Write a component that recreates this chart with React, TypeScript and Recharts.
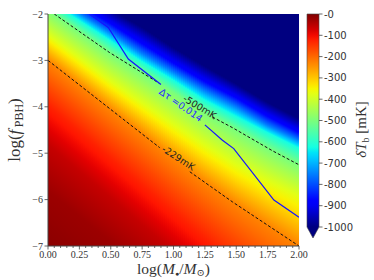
import React from 'react';
import { ComposedChart, BarChart, Bar, Line, Scatter, XAxis, YAxis } from 'recharts';

// columns of log(M/Msun) where the colour field was read
const massX = [0, 0.25, 0.5, 0.75, 1, 1.25, 1.5, 1.75, 2];

// log(f_PBH) where dT_b crosses each level, per mass column
const iso1000 = [-1.1, -1.5, -1.9, -2.28, -2.72, -3.12, -3.5, -3.9, -4.25];
const iso875 = [-1.4, -1.8, -2.2, -2.63, -3.05, -3.45, -3.8, -4.2, -4.55];
const iso750 = [-1.55, -1.98, -2.4, -2.85, -3.25, -3.65, -4.0, -4.4, -4.72];
const iso625 = [-1.7, -2.13, -2.57, -3.02, -3.42, -3.85, -4.2, -4.55, -4.88];
const iso500 = [-1.91, -2.38, -2.85, -3.27, -3.69, -4.12, -4.5, -4.89, -5.25];
const iso375 = [-2.45, -2.95, -3.45, -3.92, -4.38, -4.83, -5.25, -5.6, -5.92];
const iso229 = [-3.0, -3.53, -4.06, -4.58, -5.12, -5.63, -6.1, -6.55, -7.0];
const iso125 = [-3.95, -4.52, -5.1, -5.67, -6.25, -6.82, -7.4, -7.97, -8.55];
const iso60 = [-4.8, -5.38, -5.95, -6.53, -7.1, -7.68, -8.25, -8.83, -9.4];
const iso25 = [-5.8, -6.35, -6.9, -7.45, -8.0, -8.55, -9.1, -9.65, -10.2];
const iso10 = [-7.0, -7.55, -8.1, -8.65, -9.2, -9.75, -10.3, -10.85, -11.4];

const isoLevels = [-1000, -875, -750, -625, -500, -375, -229, -125, -60, -25, -10];
const isoRows = [iso1000, iso875, iso750, iso625, iso500, iso375, iso229, iso125, iso60, iso25, iso10];

// dashed contours (null = gap for the inline label)
const c500X = [0.05, 0.49, 0.89, 1.1, 1.31, 1.47, 1.79, 2.0];
const c500Y = [-2.0, -2.83, -3.5, null, -4.22, -4.45, -4.95, -5.25];
const c229X = [0, 0.7, 0.89, 1.0, 1.13, 1.47, 2.0];
const c229Y = [-3.0, -4.48, -4.88, null, -5.4, -6.05, -7.0];

// optical depth contour
const tauX = [0.33, 0.48, 0.64, 0.9, 1.05, 1.25, 1.39, 1.48, 1.8, 2.0];
const tauY = [-2.0, -2.29, -2.97, -3.52, null, -4.39, -4.72, -4.9, -6.01, -6.38];

// inline contour labels
const labelText = ['-500mK', '\u0394\u03c4 =0.014', '-229mK'];
const labelX = [1.21, 1.06, 1.04];
const labelY = [-4.0, -3.96, -5.1];

const xMajor = [0, 0.25, 0.5, 0.75, 1, 1.25, 1.5, 1.75, 2];
const yTicks = [-2, -3, -4, -5, -6, -7];
const cbTicks = [0, -100, -200, -300, -400, -500, -600, -700, -800, -900, -1000];

const labelAngle = [31, 35, 33];
const labelColor = ['#222', '#2a2aff', '#222'];
const AXIS = '#444';
const SERIF = '"Liberation Serif", "DejaVu Serif", serif';

// layout of the main chart
const W = 374;
const H = 280;
const M = { top: 14, right: 75, bottom: 0, left: 8 };
const Y_AXIS_W = 40;
const PLOT_W = W - M.left - M.right - Y_AXIS_W;

// matplotlib jet
const JET_R = [[0, 0], [0.35, 0], [0.66, 1], [0.89, 1], [1, 0.5]];
const JET_G = [[0, 0], [0.125, 0], [0.375, 1], [0.64, 1], [0.91, 0], [1, 0]];
const JET_B = [[0, 0.5], [0.11, 1], [0.34, 1], [0.65, 0], [1, 0]];

const segVal = (pts: number[][], t: number) => {
  for (let i = 0; i < pts.length - 1; i++) {
    if (t <= pts[i + 1][0]) {
      const f = (t - pts[i][0]) / (pts[i + 1][0] - pts[i][0]);
      return pts[i][1] + f * (pts[i + 1][1] - pts[i][1]);
    }
  }
  return pts[pts.length - 1][1];
};

const jet = (v: number) => {
  const t = Math.min(1, Math.max(0, (v + 1000) / 1000));
  const c = (p: number[][]) => Math.round(segVal(p, t) * 255);
  return `rgb(${c(JET_R)},${c(JET_G)},${c(JET_B)})`;
};

const rowAt = (row: number[], x: number) => {
  for (let k = 0; k < massX.length - 1; k++) {
    if (x <= massX[k + 1]) {
      const f = (x - massX[k]) / (massX[k + 1] - massX[k]);
      return row[k] + f * (row[k + 1] - row[k]);
    }
  }
  return row[row.length - 1];
};

const valueAt = (ys: number[], y: number) => {
  if (y >= ys[0]) return isoLevels[0];
  for (let j = 0; j < ys.length - 1; j++) {
    if (y >= ys[j + 1]) {
      const f = (ys[j] - y) / (ys[j] - ys[j + 1]);
      return isoLevels[j] + f * (isoLevels[j + 1] - isoLevels[j]);
    }
  }
  return isoLevels[isoLevels.length - 1];
};

// gradient stops down one vertical strip of the map (top = -2, bottom = -7)
const stripStops = (x: number) => {
  const ys = isoRows.map((r) => rowAt(r, x));
  const pts: number[][] = [[0, valueAt(ys, -2)]];
  const sub = 5;
  for (let j = 0; j < ys.length - 1; j++) {
    for (let k = 0; k < sub; k++) {
      const y = ys[j] + ((ys[j + 1] - ys[j]) * k) / sub;
      const v = isoLevels[j] + ((isoLevels[j + 1] - isoLevels[j]) * k) / sub;
      if (y < -2 && y > -7) pts.push([(-2 - y) / 5, v]);
    }
  }
  const last = ys[ys.length - 1];
  if (last < -2 && last > -7) pts.push([(-2 - last) / 5, isoLevels[isoLevels.length - 1]]);
  pts.push([1, valueAt(ys, -7)]);
  return pts;
};

const STRIPS = 126;
const strips = Array.from({ length: STRIPS }, (_, i) => ({
  id: i,
  x: ((i + 0.5) * 2) / STRIPS,
  range: [-7, -2],
}));

const toPts = (xs: number[], ys: (number | null)[]) => xs.map((x, i) => ({ x, y: ys[i] }));
const c500Data = toPts(c500X, c500Y);
const c229Data = toPts(c229X, c229Y);
const tauData = toPts(tauX, tauY);
const labelData = labelText.map((t, i) => ({ x: labelX[i], y: labelY[i], text: t, i }));

const xTickAll: number[] = [];
for (let k = 0; k <= 40; k++) xTickAll.push(Math.round(k * 5) / 100);

// one vertical strip of the colour map, centred where the x scale put the bar
const HeatStrip = (p: any) => {
  const w = PLOT_W / STRIPS + 1;
  const cx = p.x + p.width / 2;
  return <rect x={cx - w / 2} y={p.y} width={w} height={p.height} fill={`url(#hm${p.payload.id})`} />;
};

const ContourLabel = (p: any) => {
  const i = p.payload.i;
  return (
    <text
      x={p.cx}
      y={p.cy}
      transform={`rotate(${labelAngle[i]}, ${p.cx}, ${p.cy})`}
      textAnchor="middle"
      dominantBaseline="central"
      fontSize={9.5}
      fontFamily='"DejaVu Sans", sans-serif'
      fill={labelColor[i]}
    >
      {p.payload.text}
    </text>
  );
};

const XTick = (p: any) => {
  const v = p.payload.value;
  const major = xMajor.some((m) => Math.abs(m - v) < 1e-6);
  return (
    <g>
      <line x1={p.x} x2={p.x} y1={p.y} y2={p.y + (major ? 3.5 : 2)} stroke={AXIS} strokeWidth={0.8} />
      {major && (
        <text x={p.x} y={p.y + 12} textAnchor="middle" fontSize={10} fontFamily={SERIF} fill="#333">
          {v.toFixed(2)}
        </text>
      )}
    </g>
  );
};

const YTick = (p: any) => (
  <g>
    <line x1={p.x - 3.5} x2={p.x} y1={p.y} y2={p.y} stroke={AXIS} strokeWidth={0.8} />
    <text x={p.x - 5} y={p.y} dy="0.35em" textAnchor="end" fontSize={10} fontFamily={SERIF} fill="#333">
      {'\u2212' + Math.abs(p.payload.value)}
    </text>
  </g>
);

const XLabel = (p: any) => {
  const vb = p.viewBox || { x: 48, y: 246, width: 251 };
  const cx = vb.x + vb.width / 2;
  return (
    <text x={cx} y={vb.y + 28} textAnchor="middle" fontSize={15.5} fontFamily={SERIF} fill="#333">
      log(<tspan fontStyle="italic">M</tspan>
      <tspan fontSize={7} dy={2}>{'\u25CF'}</tspan>
      <tspan dy={-2}>/</tspan>
      <tspan fontStyle="italic">M</tspan>
      <tspan fontSize={10} dy={2}>{'\u2299'}</tspan>
      <tspan dy={-2}>)</tspan>
    </text>
  );
};

const YLabel = (p: any) => {
  const vb = p.viewBox || { x: 8, y: 14, height: 232 };
  const x = vb.x + 12;
  const y = vb.y + vb.height / 2;
  return (
    <text x={x} y={y} transform={`rotate(-90, ${x}, ${y})`} textAnchor="middle" fontSize={17} fontFamily={SERIF} fill="#333">
      log(<tspan fontStyle="italic">f</tspan>
      <tspan fontSize={12} dy={3}>{'\u2009PBH'}</tspan>
      <tspan dy={-3}>)</tspan>
    </text>
  );
};

const CbLabel = (p: any) => {
  const vb = p.viewBox || { x: 319, y: 14, height: 213 };
  const x = vb.x + 47;
  const y = vb.y + vb.height / 2 + 9;
  return (
    <text x={x} y={y} transform={`rotate(-90, ${x}, ${y})`} textAnchor="middle" fontSize={15} fontFamily={SERIF} fill="#333">
      <tspan fontStyle="italic">{'\u03B4T'}</tspan>
      <tspan fontSize={10} dy={3}>b</tspan>
      <tspan dy={-3}> [mK]</tspan>
    </text>
  );
};

const CbShape = (p: any) => {
  const { x, y, width, height } = p;
  const b = y + height;
  return (
    <g>
      <rect x={x} y={y} width={width} height={height} fill="url(#cbGrad)" />
      <path d={`M${x},${b} L${x + width},${b} L${x + width / 2},${b + 11} Z`} fill={jet(-1000)} />
      <path
        d={`M${x},${y} L${x + width},${y} L${x + width},${b} L${x + width / 2},${b + 11} L${x},${b} Z`}
        fill="none"
        stroke={AXIS}
        strokeWidth={0.6}
      />
    </g>
  );
};

const cbData = [{ name: 'dTb', range: [-1000, 0] }];

export default function App() {
  return (
    <div style={{ position: 'absolute', left: 0, top: 0, width: W, height: H, background: '#fff' }}>
      <ComposedChart width={W} height={H} data={strips} margin={M}>
        <defs>
          {strips.map((s) => (
            <linearGradient key={s.id} id={`hm${s.id}`} x1="0" y1="0" x2="0" y2="1">
              {stripStops(s.x).map(([o, v], k) => (
                <stop key={k} offset={o} stopColor={jet(v)} />
              ))}
            </linearGradient>
          ))}
        </defs>
        <Bar dataKey="range" barSize={3} shape={<HeatStrip />} isAnimationActive={false} />
        <Line data={c229Data} dataKey="y" stroke="#111" strokeWidth={1} strokeDasharray="3 2" dot={false} activeDot={false} connectNulls={false} isAnimationActive={false} />
        <Line data={c500Data} dataKey="y" stroke="#111" strokeWidth={1} strokeDasharray="3 2" dot={false} activeDot={false} connectNulls={false} isAnimationActive={false} />
        <Line data={tauData} dataKey="y" stroke="#1414ff" strokeWidth={1.2} dot={false} activeDot={false} connectNulls={false} isAnimationActive={false} />
        <Scatter data={labelData} dataKey="y" shape={<ContourLabel />} isAnimationActive={false} />
        <XAxis
          dataKey="x"
          type="number"
          domain={[0, 2]}
          allowDataOverflow
          ticks={xTickAll}
          interval={0}
          tickSize={0}
          tickMargin={0}
          tickLine={false}
          tick={<XTick />}
          axisLine={{ stroke: AXIS }}
          height={34}
          label={<XLabel />}
        />
        <XAxis xAxisId="top" orientation="top" type="number" domain={[0, 2]} tick={false} tickLine={false} axisLine={{ stroke: AXIS }} height={0} />
        <YAxis
          type="number"
          domain={[-7, -2]}
          allowDataOverflow
          ticks={yTicks}
          interval={0}
          width={Y_AXIS_W}
          tickSize={0}
          tickMargin={0}
          tickLine={false}
          tick={<YTick />}
          axisLine={{ stroke: AXIS }}
          label={<YLabel />}
        />
        <YAxis yAxisId="right" orientation="right" type="number" domain={[-7, -2]} tick={false} tickLine={false} axisLine={{ stroke: AXIS }} width={0} />
      </ComposedChart>
      <div style={{ position: 'absolute', left: 300, top: 0 }}>
        <BarChart width={74} height={H} data={cbData} margin={{ top: 14, right: 0, bottom: 53, left: 7 }} barCategoryGap={0}>
          <defs>
            <linearGradient id="cbGrad" x1="0" y1="0" x2="0" y2="1">
              {Array.from({ length: 41 }, (_, k) => (
                <stop key={k} offset={k / 40} stopColor={jet(-25 * k)} />
              ))}
            </linearGradient>
          </defs>
          <XAxis dataKey="name" hide />
          <YAxis
            orientation="right"
            type="number"
            domain={[-1000, 0]}
            ticks={cbTicks}
            interval={0}
            width={55}
            tickSize={3.5}
            tickMargin={1.5}
            axisLine={false}
            tickLine={{ stroke: AXIS, strokeWidth: 0.8 }}
            tick={{ fill: '#333', fontSize: 10, fontFamily: '"DejaVu Sans", sans-serif' }}
            tickFormatter={(v: number) => (v === 0 ? '-0' : String(v))}
            label={<CbLabel />}
          />
          <Bar dataKey="range" shape={<CbShape />} isAnimationActive={false} />
        </BarChart>
      </div>
    </div>
  );
}
